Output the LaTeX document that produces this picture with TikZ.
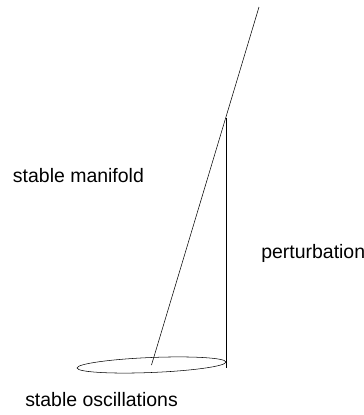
\documentclass[tikz,border=0pt]{standalone}
\usepackage{fontspec}
\setsansfont{Liberation Sans}
\usetikzlibrary{positioning}

\begin{document}
\begin{tikzpicture}[x=0.75pt, y=-0.75pt, font=\sffamily\fontsize{14.6pt}{17pt}\selectfont,
    label text/.style={anchor=base west, inner sep=0pt}]

  \useasboundingbox (0,0) rectangle (364,415);

  % Points of the picture.
  \coordinate (osc) at (151.5,365);
  \coordinate (top) at (259,7);
  \coordinate (kick) at (226,118);
  \coordinate (back) at (226,368);

  % Cycle of the stable oscillations.
  \draw[rotate around={2.3:(osc)}] (osc) ellipse [x radius=74.5, y radius=7.5];

  % Stable manifold and the perturbation off it.
  \draw (osc) -- (top);
  \draw (kick) -- (back);

  % Labels.
  \node[label text] (manifold) at (12.7,182) {stable manifold};
  \node[label text] (perturb) at (261,258) {perturbation};
  \node[label text] (oscill) at (25,406.5) {stable oscillations};

\end{tikzpicture}
\end{document}
